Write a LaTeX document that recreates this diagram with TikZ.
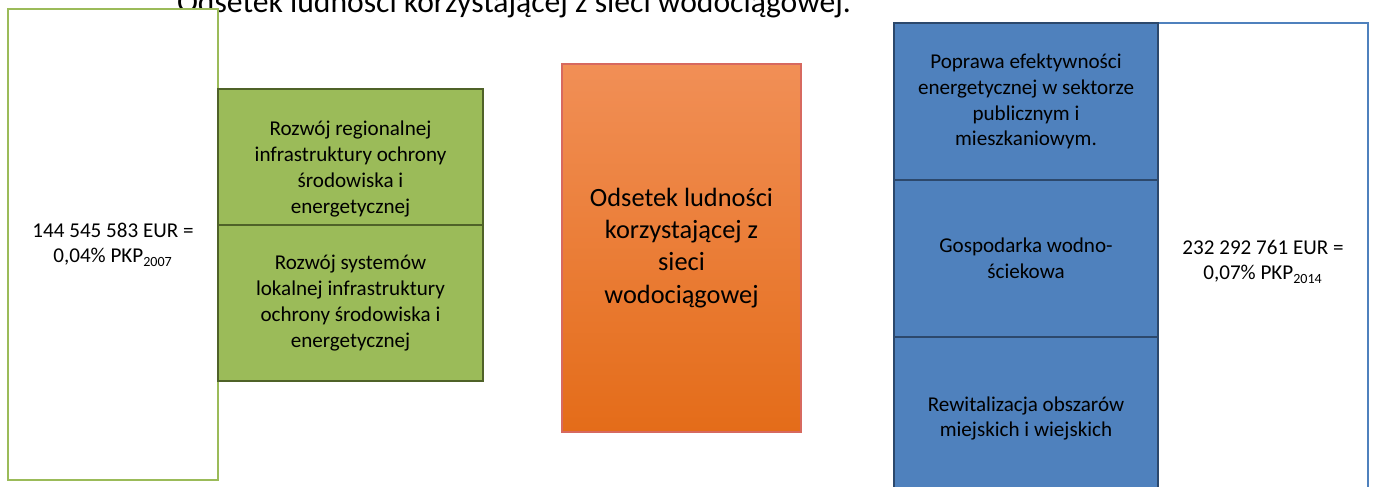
\documentclass[tikz,border=0pt]{standalone}
\usepackage{fontspec}
\setmainfont{Carlito}
\usepackage{xcolor}
\usetikzlibrary{positioning}

\definecolor{leafgreen}{RGB}{155,187,89}
\definecolor{mossline}{RGB}{79,98,40}
\definecolor{steelblue}{RGB}{79,129,189}
\definecolor{navyline}{RGB}{44,72,108}
\definecolor{peachtop}{RGB}{241,143,86}
\definecolor{rustbottom}{RGB}{228,108,25}
\definecolor{coralline}{RGB}{215,105,95}

\begin{document}
\begin{tikzpicture}[
  boxtext/.style={align=center, font=\fontsize{12}{14.7}\selectfont},
  sumbox/.style={boxtext, draw, fill=white, inner sep=0pt, outer sep=0pt, minimum width=4.2cm},
  greenbox/.style={boxtext, draw=mossline, fill=leafgreen, line width=1.2pt, inner sep=0pt, outer sep=0pt, minimum width=5.3cm},
  bluebox/.style={boxtext, draw=navyline, fill=steelblue, line width=1.2pt, inner sep=0pt, outer sep=0pt, minimum width=5.28cm},
  orangebox/.style={draw=coralline, line width=0.6pt, top color=peachtop, bottom color=rustbottom, align=center, inner sep=0pt, font=\fontsize{15}{18.3}\selectfont}
]
  \useasboundingbox (0,0) rectangle (27.48,9.72);
  \clip (0,0) rectangle (27.48,9.72);
  \fill[white] (0,0) rectangle (27.48,9.72);

  \node[anchor=base, font=\fontsize{18}{22}\selectfont] (title) at (10.28,9.46) {Odsetek ludności korzystającej z sieci wodociągowej.};

  \node[sumbox, draw=leafgreen, line width=1.7pt, minimum height=9.42cm] (sum2007) at (2.26,4.83) {144 545 583 EUR =\\0,04\% PKP\textsubscript{2007}};
  \node[greenbox, minimum height=2.72cm, anchor=north west] (regional) at (4.36,7.94) {};
  \node[boxtext] (regionaltext) at ([yshift=-0.24cm]regional.center) {Rozwój regionalnej\\infrastruktury ochrony\\środowiska i\\energetycznej};
  \node[greenbox, minimum height=3.12cm, below=0pt of regional] (local) {Rozwój systemów\\lokalnej infrastruktury\\ochrony środowiska i\\energetycznej};

  \node[orangebox, minimum width=4.78cm, minimum height=7.36cm] (share) at (13.63,4.76) {Odsetek ludności\\korzystającej z\\sieci\\wodociągowej};

  \node[sumbox, draw=steelblue, line width=1.2pt, minimum height=9.54cm, anchor=north west] (sum2014) at (23.16,9.26) {232 292 761 EUR =\\0,07\% PKP\textsubscript{2014}};
  \node[bluebox, minimum height=3.14cm, anchor=north west] (energy) at (17.88,9.26) {Poprawa efektywności\\energetycznej w sektorze\\publicznym i\\mieszkaniowym.};
  \node[bluebox, minimum height=3.14cm, below=0pt of energy] (water) {Gospodarka wodno-\\ściekowa};
  \node[bluebox, minimum height=3.26cm, below=0pt of water] (revital) {Rewitalizacja obszarów\\miejskich i wiejskich};
\end{tikzpicture}
\end{document}
